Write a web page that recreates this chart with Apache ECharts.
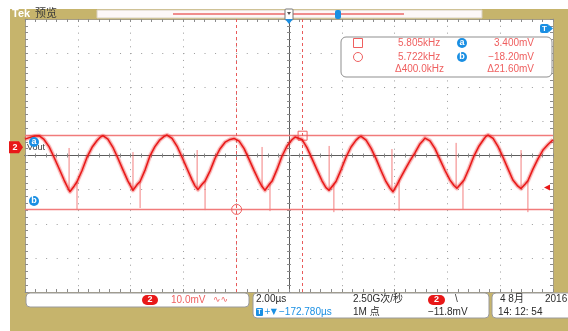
<!DOCTYPE html>
<html>
<head>
<meta charset="utf-8">
<script src="https://cdn.jsdelivr.net/npm/echarts@6/dist/echarts.min.js"></script>
<style>
  html, body { margin: 0; padding: 0; background: #fff; }
  #scope { width: 568px; height: 331px; }
</style>
</head>
<body>
<div id="scope"></div>
<script>
// ---- Acquisition settings (channel 2, Vout) ----
const voltsPerDivMv = 10.0;      // 10.0 mV/div
const timePerDivUs = 2.0;        // 2.00 us/div
const horizPosUs = -172.780;     // time at screen centre
const screenCentreMv = -2.4;     // channel offset: value at the centre graticule line
const triggerLevelMv = -11.8;

// ---- Cursor readouts ----
const cursorFreqKHz = [5.805, 5.722];   // square cursor, circle cursor (shown as 1/t)
const cursorAmv = 3.400;
const cursorBmv = -18.20;
const readoutFreq = ['5.805kHz', '5.722kHz', '\u0394400.0kHz'];
const readoutVolt = ['3.400mV', '\u221218.20mV', '\u039421.60mV'];

// ---- Trace: time from left edge of screen (us) and amplitude (mV) ----
const traceT = [
  0, 0.19, 0.38, 0.53, 0.72, 0.91, 1.10, 1.29, 1.48, 1.63, 1.70,
  1.86, 1.97, 2.16, 2.35, 2.54, 2.73, 2.84, 2.95, 3.14, 3.33, 3.52, 3.71, 3.90, 4.02, 4.09,
  4.24, 4.36, 4.55, 4.73, 4.92, 5.11, 5.27, 5.38, 5.57, 5.76, 5.95, 6.14, 6.33, 6.44, 6.55,
  6.70, 6.82, 7.01, 7.20, 7.39, 7.58, 7.77, 7.92, 8.11, 8.30, 8.48, 8.67, 8.86, 8.98, 9.09,
  9.24, 9.36, 9.55, 9.73, 9.92, 10.11, 10.23, 10.30, 10.49, 10.68, 10.87, 11.06, 11.25, 11.40, 11.52,
  11.67, 11.78, 11.97, 12.16, 12.35, 12.54, 12.65, 12.73, 12.92, 13.11, 13.30, 13.48, 13.67, 13.83, 13.94,
  14.09, 14.20, 14.39, 14.58, 14.77, 14.96, 15.08, 15.15, 15.34, 15.53, 15.72, 15.91, 16.10, 16.25, 16.36,
  16.52, 16.63, 16.82, 17.01, 17.20, 17.39, 17.46, 17.54, 17.73, 17.92, 18.11, 18.30, 18.48, 18.67, 18.79,
  18.94, 19.05, 19.24, 19.43, 19.62, 19.81, 20.00
];
const traceMv = [
  2.4, 2.9, 3.3, 3.4, 2.3, 0.2, -2.9, -6.2, -9.6, -12.0, -13.0,
  -11.4, -10.1, -6.8, -2.9, 0.0, 2.0, 2.9, 3.4, 2.4, 0.0, -3.2, -6.6, -9.9, -11.6, -12.6,
  -11.0, -10.0, -6.6, -2.6, 0.2, 2.2, 3.2, 3.6, 2.6, 0.3, -2.9, -6.3, -9.6, -11.3, -12.4,
  -10.9, -9.9, -6.9, -3.2, -0.4, 1.5, 2.3, 2.6, 1.8, -0.4, -3.4, -6.7, -9.8, -11.5, -12.6,
  -11.0, -9.9, -6.4, -2.7, 0.3, 2.2, 3.0, 3.4, 2.3, -0.1, -3.3, -6.6, -9.8, -11.8, -12.6,
  -11.1, -10.0, -6.6, -2.9, 0.1, 2.1, 2.9, 3.2, 2.1, -0.3, -3.4, -6.7, -10.0, -12.0, -13.0,
  -11.0, -9.3, -6.6, -4.0, -1.6, 1.0, 2.0, 2.7, 1.9, -0.4, -3.6, -6.8, -9.6, -11.2, -12.0,
  -10.6, -9.6, -6.2, -2.5, 0.4, 2.5, 3.2, 3.6, 2.6, 0.2, -3.0, -6.4, -9.6, -11.4, -12.1,
  -10.8, -9.8, -6.4, -3.4, -0.8, 0.8, 2.2
];

// ---- Switching transients near each valley ----
const spikeUpT    = [1.67, 4.09, 6.52, 8.98, 11.52, 13.90, 16.33, 18.79];
const spikeUpBase = [-12.8, -12.6, -12.3, -11.5, -12.6, -12.8, -11.8, -12.1];
const spikeUpTip  = [-0.2, -1.4, -0.8, 0.1, 0.4, -0.5, 1.3, -0.8];
const spikeDnT    = [1.97, 4.36, 6.82, 9.28, 11.70, 14.17, 16.59, 19.05];
const spikeDnBase = [-10.1, -10.0, -9.9, -10.5, -10.6, -9.5, -9.8, -9.8];
const spikeDnTip  = [-18.4, -17.8, -18.4, -18.7, -19.0, -18.7, -18.1, -19.0];

// ---- Status bar texts ----
const statusScale = '10.0mV';
const statusTime = '2.00\u00b5s';
const statusDelay = '\u2212172.780\u00b5s';
const statusRate = '2.50G\u6b21/\u79d2';
const statusRecord = '1M \u70b9';
const statusTrig = '\u221211.8mV';
const statusDate = ['4 8\u6708', '2016', '14: 12: 54'];

// ---------------------------------------------------------------
const screenLeftUs = horizPosUs - 5 * timePerDivUs;
const cursorT = cursorFreqKHz.map(f => -1000 / f - screenLeftUs);   // [square, circle]
const yMin = screenCentreMv - 4 * voltsPerDivMv;
const yMax = screenCentreMv + 4 * voltsPerDivMv;

const traceData = traceT.map((t, i) => [t, traceMv[i]]);
const spikeData = [];
spikeUpT.forEach((t, i) => { spikeData.push([t, spikeUpBase[i]], [t, spikeUpTip[i]], [t, '-']); });
spikeDnT.forEach((t, i) => { spikeData.push([t, spikeDnBase[i]], [t, spikeDnTip[i]], [t, '-']); });

const GRID = { left: 25, top: 19, width: 528, height: 273 };
const TAN = '#c6b46c';
const RED = '#e81818';
const PINK = '#ef5f5f';
const BLUE = '#1a8fe3';
const INK = '#2b2b2b';
const FONT = '"Liberation Sans", "Noto Sans CJK SC", sans-serif';

const tickStyle = { color: '#8c8c8c', width: 1 };
const borderLine = { show: true, onZero: false, lineStyle: { color: '#a59d86', width: 1 } };
const centreLine = { color: '#5c5c5c', width: 1 };

function divX(grid, position, opts) {
  return Object.assign({
    gridIndex: grid, type: 'value', min: -5, max: 5, interval: 1, position,
    axisLabel: { show: false }, splitLine: { show: false }
  }, opts);
}
function divY(grid, position, opts) {
  return Object.assign({
    gridIndex: grid, type: 'value', min: -4, max: 4, interval: 1, position,
    axisLabel: { show: false }, splitLine: { show: false }
  }, opts);
}

const option = {
  animation: false,
  grid: [0, 1, 2, 3, 4].map(() => Object.assign({ show: false }, GRID)),
  xAxis: [
    { gridIndex: 0, type: 'value', min: 0, max: 20, show: false },
    divX(1, 'bottom', {
      axisLine: borderLine,
      axisTick: { show: true, inside: true, length: 3, lineStyle: tickStyle },
      minorTick: { show: true, splitNumber: 5, length: 3, lineStyle: tickStyle },
      splitLine: { show: true, showMinLine: false, showMaxLine: false,
        lineStyle: { color: '#9b9b9b', width: 1, type: [1, 5.825] } }
    }),
    divX(2, 'top', {
      axisLine: borderLine,
      axisTick: { show: true, inside: true, length: 3, lineStyle: tickStyle },
      minorTick: { show: true, splitNumber: 5, length: 3, lineStyle: tickStyle }
    }),
    divX(3, 'bottom', {
      axisLine: { show: true, onZero: true, onZeroAxisIndex: 3, lineStyle: centreLine },
      axisTick: { show: true, inside: true, length: 2, lineStyle: tickStyle },
      minorTick: { show: true, splitNumber: 5, length: 2, lineStyle: tickStyle }
    }),
    divX(4, 'bottom', {
      axisLine: { show: true, onZero: true, onZeroAxisIndex: 4, lineStyle: centreLine },
      axisTick: { show: true, inside: false, length: 2, lineStyle: tickStyle },
      minorTick: { show: true, splitNumber: 5, length: 2, lineStyle: tickStyle }
    })
  ],
  yAxis: [
    { gridIndex: 0, type: 'value', min: yMin, max: yMax, show: false },
    divY(1, 'left', {
      axisLine: borderLine,
      axisTick: { show: true, inside: true, length: 3, lineStyle: tickStyle },
      minorTick: { show: true, splitNumber: 5, length: 3, lineStyle: tickStyle },
      splitLine: { show: true, showMinLine: false, showMaxLine: false,
        lineStyle: { color: '#9b9b9b', width: 1, type: [1, 9.56] } }
    }),
    divY(2, 'right', {
      axisLine: borderLine,
      axisTick: { show: true, inside: true, length: 3, lineStyle: tickStyle },
      minorTick: { show: true, splitNumber: 5, length: 3, lineStyle: tickStyle }
    }),
    divY(3, 'left', {
      axisLine: { show: true, onZero: true, onZeroAxisIndex: 3, lineStyle: centreLine },
      axisTick: { show: true, inside: true, length: 2, lineStyle: tickStyle },
      minorTick: { show: true, splitNumber: 5, length: 2, lineStyle: tickStyle }
    }),
    divY(4, 'left', {
      axisLine: { show: true, onZero: true, onZeroAxisIndex: 4, lineStyle: centreLine },
      axisTick: { show: true, inside: false, length: 2, lineStyle: tickStyle },
      minorTick: { show: true, splitNumber: 5, length: 2, lineStyle: tickStyle }
    })
  ],
  series: [
    {
      // cursors, ground and trigger-level markers
      name: 'cursors', type: 'line', xAxisIndex: 0, yAxisIndex: 0, data: [], z: 3, silent: true,
      markLine: {
        silent: true, symbol: ['none', 'none'], label: { show: false },
        data: [
          { yAxis: cursorAmv, lineStyle: { color: '#f17b7b', width: 1.3, type: 'solid' } },
          { yAxis: cursorBmv, lineStyle: { color: '#f17b7b', width: 1.3, type: 'solid' } },
          { xAxis: cursorT[0], lineStyle: { color: '#e95a5a', width: 1, type: [3, 3] } },
          { xAxis: cursorT[1], lineStyle: { color: '#e95a5a', width: 1, type: [3, 3] } }
        ]
      },
      markPoint: {
        silent: true,
        data: [
          { coord: [cursorT[0], cursorAmv], symbol: 'rect', symbolSize: 9,
            itemStyle: { color: 'rgba(255,255,255,0)', borderColor: PINK, borderWidth: 1 }, label: { show: false } },
          { coord: [cursorT[1], cursorBmv], symbol: 'circle', symbolSize: 10,
            itemStyle: { color: 'rgba(255,255,255,0)', borderColor: PINK, borderWidth: 1 }, label: { show: false } },
          { coord: [20, triggerLevelMv], symbol: 'triangle', symbolRotate: 90, symbolSize: [6, 6],
            symbolOffset: [-6, 0], itemStyle: { color: RED }, label: { show: false } },
          { coord: [0, 0], symbol: 'path://M0,0 L10,0 L14,6 L10,12 L0,12 Z', symbolSize: [14, 12],
            symbolOffset: [-9, 0], itemStyle: { color: RED },
            label: { show: true, position: 'inside', offset: [-1, 0], formatter: '2',
              color: '#fff', fontWeight: 'bold', fontSize: 9, fontFamily: FONT } }
        ]
      }
    },
    {
      name: 'transients', type: 'line', xAxisIndex: 0, yAxisIndex: 0, data: spikeData,
      showSymbol: false, connectNulls: false, z: 4, silent: true,
      lineStyle: { color: 'rgba(240,95,95,0.8)', width: 1 }
    },
    {
      name: 'Vout halo', type: 'line', xAxisIndex: 0, yAxisIndex: 0, data: traceData,
      showSymbol: false, z: 5, silent: true,
      lineStyle: { color: 'rgba(238,40,40,0.3)', width: 4, join: 'round',
        shadowBlur: 2, shadowColor: 'rgba(238,40,40,0.5)' }
    },
    {
      name: 'Vout', type: 'line', xAxisIndex: 0, yAxisIndex: 0, data: traceData,
      showSymbol: false, z: 6, silent: true,
      lineStyle: { color: RED, width: 1.5, join: 'round' }
    }
  ],
  graphic: [
    // frame and screen background
    { type: 'rect', z: -100, shape: { x: 10, y: 9, width: 558, height: 322 }, style: { fill: TAN } },
    { type: 'rect', z: -99, shape: { x: GRID.left, y: GRID.top, width: GRID.width, height: GRID.height }, style: { fill: '#fff' } },

    // top bar
    { type: 'text', z: 100, x: 12, y: 14, style: { text: 'Tek', fill: '#fff', font: 'bold 11px ' + FONT, verticalAlign: 'middle' } },
    { type: 'text', z: 100, x: 35, y: 14, style: { text: '\u9884\u89c8', fill: '#3a3a3a', font: '11px ' + FONT, verticalAlign: 'middle' } },
    { type: 'rect', z: 100, shape: { x: 97, y: 10, width: 385, height: 8 }, style: { fill: '#fdf7f7', stroke: '#d8d0c0', lineWidth: 1 } },
    { type: 'line', z: 101, shape: { x1: 173, y1: 14, x2: 404, y2: 14 }, style: { stroke: '#f08c8c', lineWidth: 2 } },
    { type: 'rect', z: 102, shape: { x: 285, y: 9, width: 8, height: 11, r: 1 }, style: { fill: '#fff', stroke: '#777', lineWidth: 1 } },
    { type: 'polygon', z: 103, shape: { points: [[287, 12], [291, 12], [289, 15]] }, style: { fill: '#555' } },
    { type: 'rect', z: 102, shape: { x: 335, y: 10, width: 6, height: 9, r: 2 }, style: { fill: BLUE } },
    { type: 'polygon', z: 103, shape: { points: [[285, 19], [293, 19], [289, 24]] }, style: { fill: BLUE } },

    // trigger marker, top right
    { type: 'rect', z: 100, shape: { x: 540, y: 24, width: 9, height: 9, r: 2 }, style: { fill: BLUE } },
    { type: 'polygon', z: 100, shape: { points: [[549, 25], [553, 28.5], [549, 32]] }, style: { fill: BLUE } },
    { type: 'text', z: 101, x: 544.5, y: 28.5, style: { text: 'T', fill: '#fff', font: 'bold 8px ' + FONT, align: 'center', verticalAlign: 'middle' } },

    // channel label and cursor tags on the left
    { type: 'text', z: 100, x: 27, y: 148, style: { text: 'Vout', fill: '#3c3c3c', font: '9px ' + FONT, verticalAlign: 'middle' } },
    { type: 'circle', z: 101, shape: { cx: 34, cy: 142, r: 5 }, style: { fill: BLUE } },
    { type: 'text', z: 102, x: 34, y: 141.5, style: { text: 'a', fill: '#fff', font: 'bold 9px ' + FONT, align: 'center', verticalAlign: 'middle' } },
    { type: 'circle', z: 101, shape: { cx: 34, cy: 201, r: 5 }, style: { fill: BLUE } },
    { type: 'text', z: 102, x: 34, y: 200.5, style: { text: 'b', fill: '#fff', font: 'bold 9px ' + FONT, align: 'center', verticalAlign: 'middle' } },

    // cursor readout box
    { type: 'rect', z: 100, shape: { x: 341, y: 37, width: 211, height: 40, r: 5 }, style: { fill: '#fff', stroke: '#8f8f8f', lineWidth: 1 } },
    { type: 'rect', z: 101, shape: { x: 353.5, y: 38.5, width: 9, height: 9 }, style: { fill: 'none', stroke: PINK, lineWidth: 1 } },
    { type: 'circle', z: 101, shape: { cx: 358, cy: 57, r: 4.5 }, style: { fill: 'none', stroke: PINK, lineWidth: 1 } },
    { type: 'text', z: 101, x: 398, y: 43, style: { text: readoutFreq[0], fill: PINK, font: '10px ' + FONT, verticalAlign: 'middle' } },
    { type: 'text', z: 101, x: 398, y: 57, style: { text: readoutFreq[1], fill: PINK, font: '10px ' + FONT, verticalAlign: 'middle' } },
    { type: 'text', z: 101, x: 395, y: 69, style: { text: readoutFreq[2], fill: PINK, font: '10px ' + FONT, verticalAlign: 'middle' } },
    { type: 'circle', z: 101, shape: { cx: 462, cy: 43, r: 5 }, style: { fill: BLUE } },
    { type: 'text', z: 102, x: 462, y: 42.5, style: { text: 'a', fill: '#fff', font: 'bold 9px ' + FONT, align: 'center', verticalAlign: 'middle' } },
    { type: 'circle', z: 101, shape: { cx: 462, cy: 57, r: 5 }, style: { fill: BLUE } },
    { type: 'text', z: 102, x: 462, y: 56.5, style: { text: 'b', fill: '#fff', font: 'bold 9px ' + FONT, align: 'center', verticalAlign: 'middle' } },
    { type: 'text', z: 101, x: 534, y: 43, style: { text: readoutVolt[0], fill: PINK, font: '10px ' + FONT, align: 'right', verticalAlign: 'middle' } },
    { type: 'text', z: 101, x: 534, y: 57, style: { text: readoutVolt[1], fill: PINK, font: '10px ' + FONT, align: 'right', verticalAlign: 'middle' } },
    { type: 'text', z: 101, x: 534, y: 69, style: { text: readoutVolt[2], fill: PINK, font: '10px ' + FONT, align: 'right', verticalAlign: 'middle' } },

    // status bar: vertical scale
    { type: 'rect', z: 100, shape: { x: 26, y: 293, width: 223, height: 14, r: 4 }, style: { fill: '#fff', stroke: '#9a9a9a', lineWidth: 1 } },
    { type: 'rect', z: 101, shape: { x: 142, y: 295, width: 16, height: 10, r: 5 }, style: { fill: RED } },
    { type: 'text', z: 102, x: 150, y: 300, style: { text: '2', fill: '#fff', font: 'bold 9px ' + FONT, align: 'center', verticalAlign: 'middle' } },
    { type: 'text', z: 101, x: 171, y: 300, style: { text: statusScale, fill: PINK, font: '10px ' + FONT, verticalAlign: 'middle' } },
    { type: 'text', z: 101, x: 213, y: 300, style: { text: '\u223f\u223f', fill: PINK, font: '9px "DejaVu Sans"', verticalAlign: 'middle' } },

    // status bar: horizontal / acquisition / trigger
    { type: 'rect', z: 100, shape: { x: 253, y: 293, width: 236, height: 25, r: 4 }, style: { fill: '#fff', stroke: '#9a9a9a', lineWidth: 1 } },
    { type: 'text', z: 101, x: 256, y: 299, style: { text: statusTime, fill: INK, font: '10px ' + FONT, verticalAlign: 'middle' } },
    { type: 'rect', z: 101, shape: { x: 256, y: 308, width: 7, height: 8, r: 1 }, style: { fill: BLUE } },
    { type: 'text', z: 102, x: 259.5, y: 312, style: { text: 'T', fill: '#fff', font: 'bold 7px ' + FONT, align: 'center', verticalAlign: 'middle' } },
    { type: 'text', z: 101, x: 264, y: 312, style: { text: '+\u25bc', fill: BLUE, font: '8px "DejaVu Sans"', verticalAlign: 'middle' } },
    { type: 'text', z: 101, x: 279, y: 312, style: { text: statusDelay, fill: BLUE, font: '10px ' + FONT, verticalAlign: 'middle' } },
    { type: 'text', z: 101, x: 353, y: 299, style: { text: statusRate, fill: INK, font: '10px ' + FONT, verticalAlign: 'middle' } },
    { type: 'text', z: 101, x: 353, y: 312, style: { text: statusRecord, fill: INK, font: '10px ' + FONT, verticalAlign: 'middle' } },
    { type: 'rect', z: 101, shape: { x: 428, y: 295, width: 17, height: 10, r: 5 }, style: { fill: RED } },
    { type: 'text', z: 102, x: 436.5, y: 300, style: { text: '2', fill: '#fff', font: 'bold 9px ' + FONT, align: 'center', verticalAlign: 'middle' } },
    { type: 'text', z: 101, x: 455, y: 299, style: { text: '\\', fill: INK, font: '10px ' + FONT, verticalAlign: 'middle' } },
    { type: 'text', z: 101, x: 428, y: 312, style: { text: statusTrig, fill: INK, font: '10px ' + FONT, verticalAlign: 'middle' } },

    // status bar: date and time
    { type: 'rect', z: 100, shape: { x: 492, y: 293, width: 82, height: 25, r: 4 }, style: { fill: '#fff', stroke: '#9a9a9a', lineWidth: 1 } },
    { type: 'text', z: 101, x: 500, y: 299, style: { text: statusDate[0], fill: INK, font: '10px ' + FONT, verticalAlign: 'middle' } },
    { type: 'text', z: 101, x: 545, y: 299, style: { text: statusDate[1], fill: INK, font: '10px ' + FONT, verticalAlign: 'middle' } },
    { type: 'text', z: 101, x: 498, y: 312, style: { text: statusDate[2], fill: INK, font: '10px ' + FONT, verticalAlign: 'middle' } }
  ]
};

const chart = echarts.init(document.getElementById('scope'), null, { renderer: 'canvas' });
chart.setOption(option);
</script>
</body>
</html>
